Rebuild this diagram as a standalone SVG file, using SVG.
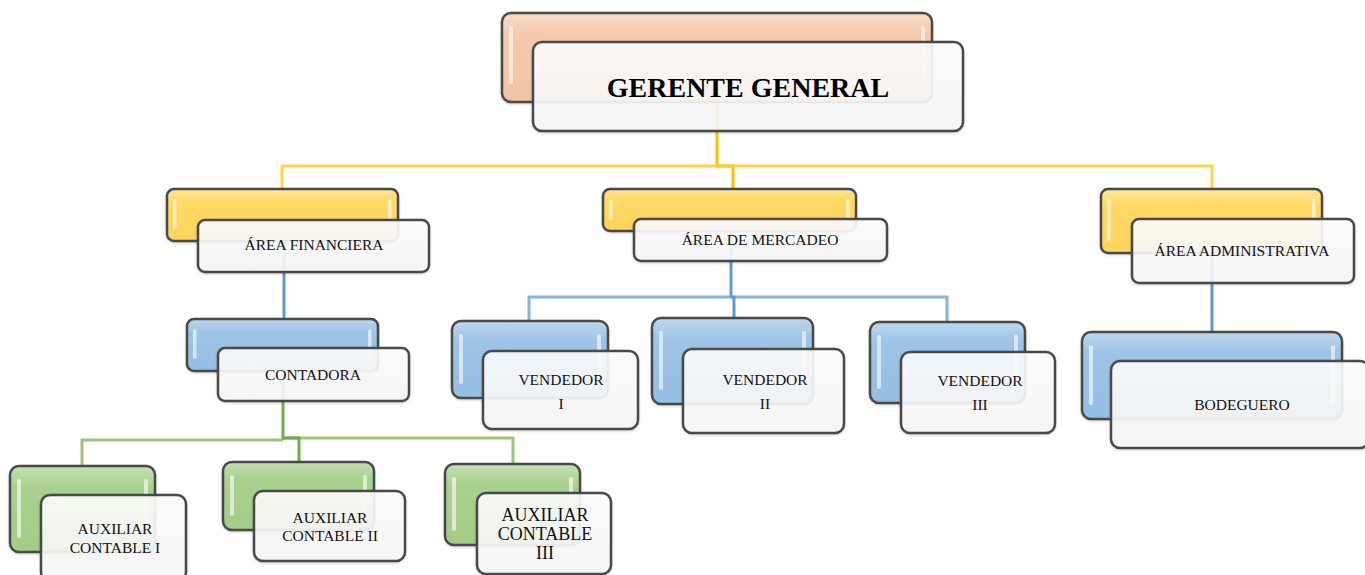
<svg xmlns="http://www.w3.org/2000/svg" width="1365" height="575" viewBox="0 0 1365 575">
  <defs>
    <linearGradient id="gPeach" x1="0" y1="0" x2="0" y2="1">
      <stop offset="0" stop-color="#F9DCC8"/>
      <stop offset="0.25" stop-color="#F5CAAB"/>
      <stop offset="1" stop-color="#F3C4A2"/>
    </linearGradient>
    <linearGradient id="gYellow" x1="0" y1="0" x2="0" y2="1">
      <stop offset="0" stop-color="#FFE699"/>
      <stop offset="0.25" stop-color="#FFD966"/>
      <stop offset="1" stop-color="#FFD45C"/>
    </linearGradient>
    <linearGradient id="gBlue" x1="0" y1="0" x2="0" y2="1">
      <stop offset="0" stop-color="#BDD7EE"/>
      <stop offset="0.25" stop-color="#9DC3E6"/>
      <stop offset="1" stop-color="#97BFE3"/>
    </linearGradient>
    <linearGradient id="gGreen" x1="0" y1="0" x2="0" y2="1">
      <stop offset="0" stop-color="#C5E0B4"/>
      <stop offset="0.25" stop-color="#A9D18E"/>
      <stop offset="1" stop-color="#A3CD86"/>
    </linearGradient>
    <linearGradient id="gFront" x1="0" y1="0" x2="0" y2="1">
      <stop offset="0" stop-color="#FDFDFD"/>
      <stop offset="1" stop-color="#F6F6F6"/>
    </linearGradient>
    <filter id="shadow" x="-5%" y="-10%" width="110%" height="130%">
      <feDropShadow dx="0" dy="1" stdDeviation="1.2" flood-color="#000" flood-opacity="0.2"/>
    </filter>
  </defs>
  <style>
    .back { stroke: #4a4a4a; stroke-width: 2.5; filter: url(#shadow); }
    .peach { fill: url(#gPeach); }
    .yellow { fill: url(#gYellow); }
    .blue { fill: url(#gBlue); }
    .green { fill: url(#gGreen); }
    .front { fill: url(#gFront); fill-opacity: 0.9; stroke: #4a4a4a; stroke-width: 2.5; filter: url(#shadow); }
    .gloss { fill: #FFFFFF; opacity: 0.6; }
    .lbl { font-family: "Liberation Serif", "Times New Roman", serif; font-size: 15.5px; text-anchor: middle; fill: #111; }
    .big { font-size: 18px; }
    .title { font-size: 28px; font-weight: bold; fill: #000; }
    .c { fill: none; stroke-width: 3; stroke-linejoin: miter; }
    .cy { stroke: #FFC000; }
    .cyb { stroke: #FFCD2E; stroke-opacity: 0.85; }
    .cb { stroke: #5B9BD5; }
    .cbb { stroke: #6FA7DC; stroke-opacity: 0.85; }
    .cg { stroke: #70AD47; }
    .cgb { stroke: #85BD5F; stroke-opacity: 0.85; }
  </style>

  <!-- connectors -->
  <g id="connectors">
    <path class="c cy" d="M717,102 V166 H733 V189"/>
    <path class="c cyb" d="M282,189 V166 H1212 V189"/>
    <path class="c cb" d="M284,241 V319"/>
    <path class="c cb" d="M731,231 V297"/>
    <path class="c cbb" d="M529,321 V297 H947 V322"/>
    <path class="c cb" d="M731,297 H734 V318"/>
    <path class="c cb" d="M1212,253 V332"/>
    <path class="c cg" d="M283,371 V440"/>
    <path class="c cgb" d="M82,466 V440 H283"/>
    <path class="c cgb" d="M283,438 H513 V464"/>
    <path class="c cg" d="M283,438 H299 V462"/>
  </g>

  <!-- top -->
  <g id="gerente-general">
    <rect class="back peach" x="502" y="13" width="430" height="89" rx="9"/>
    <rect class="gloss" x="509" y="26" width="4" height="58" rx="2"/>
    <rect class="gloss" x="921" y="26" width="4" height="58" rx="2"/>
    <rect class="front" x="533" y="42" width="430" height="89" rx="9"/>
    <text class="lbl title" x="748" y="97">GERENTE GENERAL</text>
  </g>

  <!-- second level -->
  <g id="area-financiera">
    <rect class="back yellow" x="167" y="189" width="231" height="52" rx="7"/>
    <rect class="gloss" x="173" y="199" width="3.5" height="30" rx="1.75"/>
    <rect class="gloss" x="388" y="199" width="3.5" height="30" rx="1.75"/>
    <rect class="front" x="198" y="220" width="231" height="52" rx="7"/>
    <text class="lbl" x="314" y="250">ÁREA FINANCIERA</text>
  </g>
  <g id="area-mercadeo">
    <rect class="back yellow" x="603" y="189" width="253" height="42" rx="7"/>
    <rect class="gloss" x="609" y="199" width="3.5" height="21" rx="1.75"/>
    <rect class="gloss" x="846" y="199" width="3.5" height="21" rx="1.75"/>
    <rect class="front" x="634" y="219" width="253" height="42" rx="7"/>
    <text class="lbl" x="760" y="245">ÁREA DE MERCADEO</text>
  </g>
  <g id="area-administrativa">
    <rect class="back yellow" x="1101" y="189" width="221" height="64" rx="7"/>
    <rect class="gloss" x="1107" y="199" width="3.5" height="42" rx="1.75"/>
    <rect class="gloss" x="1312" y="199" width="3.5" height="42" rx="1.75"/>
    <rect class="front" x="1132" y="219" width="222" height="64" rx="7"/>
    <text class="lbl" x="1242" y="256">ÁREA ADMINISTRATIVA</text>
  </g>

  <!-- third level -->
  <g id="contadora">
    <rect class="back blue" x="187" y="319" width="191" height="52" rx="7"/>
    <rect class="gloss" x="193" y="329" width="3.5" height="30" rx="1.75"/>
    <rect class="gloss" x="368" y="329" width="3.5" height="30" rx="1.75"/>
    <rect class="front" x="218" y="348" width="191" height="53" rx="7"/>
    <text class="lbl" x="313" y="380">CONTADORA</text>
  </g>
  <g id="vendedor-1">
    <rect class="back blue" x="452" y="321" width="156" height="77" rx="9"/>
    <rect class="gloss" x="459" y="334" width="4" height="50" rx="2"/>
    <rect class="gloss" x="597" y="334" width="4" height="50" rx="2"/>
    <rect class="front" x="483" y="351" width="155" height="78" rx="9"/>
    <text class="lbl" x="561" y="385">VENDEDOR</text>
    <text class="lbl" x="561" y="409">I</text>
  </g>
  <g id="vendedor-2">
    <rect class="back blue" x="652" y="318" width="161" height="86" rx="9"/>
    <rect class="gloss" x="659" y="331" width="4" height="59" rx="2"/>
    <rect class="gloss" x="802" y="331" width="4" height="59" rx="2"/>
    <rect class="front" x="683" y="349" width="161" height="84" rx="9"/>
    <text class="lbl" x="765" y="385">VENDEDOR</text>
    <text class="lbl" x="765" y="409">II</text>
  </g>
  <g id="vendedor-3">
    <rect class="back blue" x="870" y="322" width="155" height="81" rx="9"/>
    <rect class="gloss" x="877" y="335" width="4" height="54" rx="2"/>
    <rect class="gloss" x="1014" y="335" width="4" height="54" rx="2"/>
    <rect class="front" x="901" y="352" width="154" height="81" rx="9"/>
    <text class="lbl" x="980" y="386">VENDEDOR</text>
    <text class="lbl" x="980" y="410">III</text>
  </g>
  <g id="bodeguero">
    <rect class="back blue" x="1082" y="332" width="260" height="87" rx="9"/>
    <rect class="gloss" x="1089" y="345" width="4" height="60" rx="2"/>
    <rect class="gloss" x="1331" y="345" width="4" height="60" rx="2"/>
    <rect class="front" x="1111" y="361" width="258" height="87" rx="9"/>
    <text class="lbl" x="1242" y="410">BODEGUERO</text>
  </g>

  <!-- fourth level -->
  <g id="auxiliar-contable-1">
    <rect class="back green" x="10" y="466" width="145" height="86" rx="9"/>
    <rect class="gloss" x="17" y="479" width="4" height="59" rx="2"/>
    <rect class="gloss" x="144" y="479" width="4" height="59" rx="2"/>
    <rect class="front" x="41" y="495" width="145" height="86" rx="9"/>
    <text class="lbl" x="115" y="534">AUXILIAR</text>
    <text class="lbl" x="115" y="553">CONTABLE I</text>
  </g>
  <g id="auxiliar-contable-2">
    <rect class="back green" x="223" y="462" width="151" height="68" rx="9"/>
    <rect class="gloss" x="230" y="475" width="4" height="41" rx="2"/>
    <rect class="gloss" x="363" y="475" width="4" height="41" rx="2"/>
    <rect class="front" x="254" y="491" width="151" height="70" rx="9"/>
    <text class="lbl" x="330" y="523">AUXILIAR</text>
    <text class="lbl" x="330" y="541">CONTABLE II</text>
  </g>
  <g id="auxiliar-contable-3">
    <rect class="back green" x="445" y="464" width="135" height="81" rx="9"/>
    <rect class="gloss" x="452" y="477" width="4" height="54" rx="2"/>
    <rect class="gloss" x="569" y="477" width="4" height="54" rx="2"/>
    <rect class="front" x="477" y="493" width="134" height="81" rx="9"/>
    <text class="lbl big" x="545" y="521">AUXILIAR</text>
    <text class="lbl big" x="545" y="540">CONTABLE</text>
    <text class="lbl big" x="545" y="559">III</text>
  </g>
</svg>
